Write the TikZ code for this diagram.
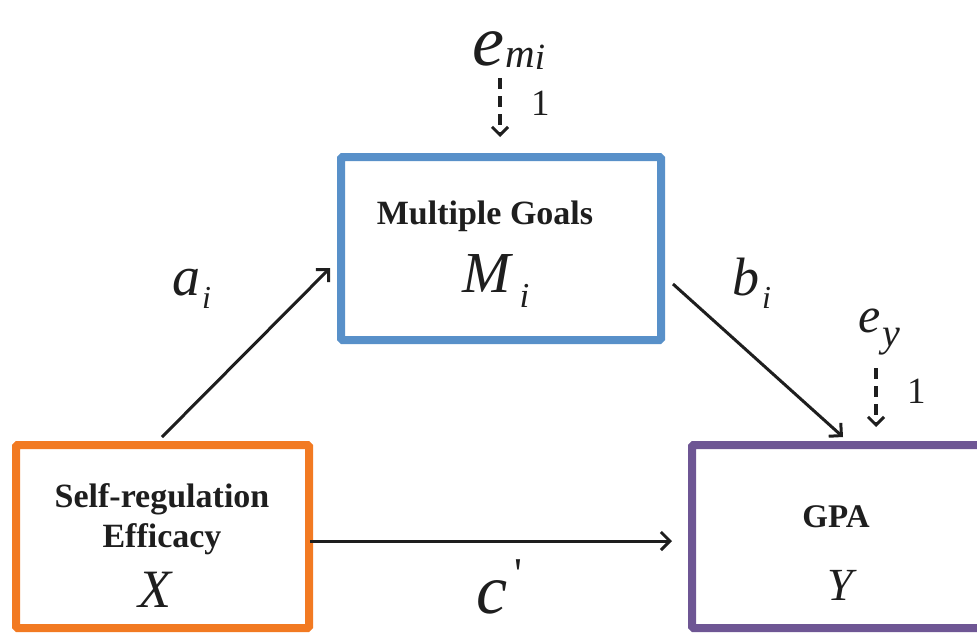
\documentclass[tikz,border=0pt]{standalone}
\usepackage{fontspec}
\setmainfont{Liberation Serif}[ItalicFont={Liberation Serif Italic},BoldFont={Liberation Serif Bold},BoldItalicFont={Liberation Serif Bold Italic}]
\usetikzlibrary{arrows.meta,calc}
\definecolor{mblue}{RGB}{88,144,201}
\definecolor{xorange}{RGB}{242,122,34}
\definecolor{ypurple}{RGB}{110,86,148}
\definecolor{ink}{RGB}{30,30,30}
\newcommand{\fsz}[1]{\fontsize{#1}{#1}\selectfont}
\tikzset{
  box/.style={draw, line width=8pt, inner sep=0pt, outer sep=4pt, rounded corners=1.5pt},
  lbl/.style={inner sep=0pt, text=ink, font=\bfseries\fsz{34}, anchor=base},
  sym/.style={inner sep=0pt, text=ink, anchor=base west},
  path/.style={draw=ink, line width=3pt, -{Straight Barb[length=9pt,width=18pt,line width=3pt]}},
  err/.style={draw=ink, line width=3.5pt, dash pattern=on 11pt off 7pt, -{Straight Barb[length=8pt,width=16pt,line width=3pt]}},
  one/.style={inner sep=0pt, text=ink, font=\fsz{37}, anchor=base west}
}
\begin{document}
\begin{tikzpicture}[x=1pt,y=-1pt]
\useasboundingbox (0,0) rectangle (977,635);
\clip (0,0) rectangle (977,635);
% boxes
\node[box, draw=mblue, minimum width=320pt, minimum height=183pt] (M) at (501,248.5) {};
\node[box, draw=xorange, minimum width=293pt, minimum height=183pt] (X) at (162.5,536.5) {};
\node[box, draw=ypurple, minimum width=300pt, minimum height=183pt] (Y) at (842,536.5) {};
% box texts
\node[lbl] (Mlbl) at (485,224) {Multiple Goals};
\node[sym, font=\itshape\fsz{58}] (Msym) at (462,292) {M\kern9pt\raisebox{-15pt}{\fsz{35}i}};
\node[lbl] (Xlbl1) at (162,507) {Self-regulation};
\node[lbl] (Xlbl2) at (162,547) {Efficacy};
\node[sym, font=\itshape\fsz{54}, anchor=base] (Xsym) at (155,607) {X};
\node[lbl, font=\bfseries\fsz{33}] (Ylbl) at (836,527) {GPA};
\node[sym, font=\itshape\fsz{46}, anchor=base] (Ysym) at (840,600) {Y};
% path labels
\node[sym, font=\itshape\fsz{56}] (alab) at (172,295) {a\kern2pt\raisebox{-13pt}{\fsz{32}i}};
\node[sym, font=\itshape\fsz{54}] (blab) at (732,295) {b\kern3pt\raisebox{-13pt}{\fsz{32}i}};
\node[sym, font=\itshape\fsz{70}] (clab) at (476,613) {c};
\node[inner sep=0pt, text=ink, font=\fsz{44}, anchor=north] (cprime) at (518,559) {\textquotesingle};
% error terms
\node[sym, font=\itshape\fsz{72}] (em) at (472,65) {e\kern1pt\raisebox{-2pt}{\fsz{41}m}\raisebox{-4pt}{\fsz{37}i}};
\node[sym, font=\itshape\fsz{50}] (ey) at (858,332) {e\kern2pt\raisebox{-14pt}{\fsz{40}y}};
\node[one] (onem) at (531,115) {1};
\node[one] (oney) at (907,403) {1};
% connectors
\draw[path] ($(X.north)+(-0.5,-4)$) -- ($(M.west)+(-7,19.5)$);
\draw[path] ($(M.east)+(8,35.5)$) -- ($(Y.north west)+(155,-4)$);
\draw[path] ($(X.east)+(-3,4.5)$) -- ($(Y.west)+(-16,4.5)$);
\draw[err] ($(M.north)+(-1,-75)$) -- ($(M.north)+(-1,-16)$);
\draw[err] ($(Y.north west)+(188,-73)$) -- ($(Y.north west)+(188,-14)$);
\end{tikzpicture}
\end{document}
